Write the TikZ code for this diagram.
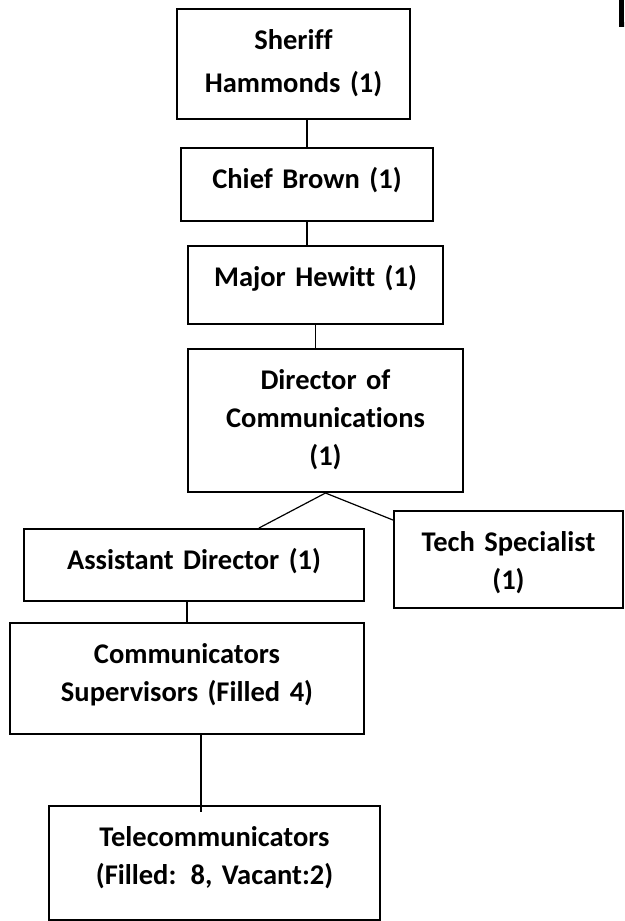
\documentclass[tikz,border=0pt]{standalone}
\usepackage{fontspec}
\setmainfont{Carlito}[Ligatures=NoCommon]
\tikzset{
  post/.style={draw, line width=2pt, inner sep=0pt, anchor=north west, align=center,
    text height=40pt, font=\bfseries\fontsize{28.5}{38}\selectfont},
  link/.style={line width=1.2pt}
}
\begin{document}
\begin{tikzpicture}[x=1pt,y=-1pt]
\useasboundingbox[fill=white] (0,0) rectangle (624,921);
\clip (0,0) rectangle (624,921);

\node[post, text width=233pt, text depth=70pt, font=\bfseries\fontsize{28.5}{43}\selectfont] (sheriff) at (176,8) {Sheriff\\Hammonds (1)};
\node[post, text width=252pt, text depth=33pt] (chief) at (180,147) {Chief Brown (1)};
\node[post, text width=255pt, text depth=38pt] (major) at (187,245) {Major Hewitt (1)};
\node[post, text width=275pt, text depth=103pt] (director) at (187,348) {Director of\\Communications\\(1)};
\node[post, text width=340pt, text depth=32pt] (assistant) at (23,528) {Assistant Director (1)};
\node[post, text width=229pt, text depth=57pt] (tech) at (393,510) {Tech Specialist\\(1)};
\node[post, text width=354pt, text depth=71pt] (supervisors) at (9,622) {Communicators\\Supervisors (Filled 4)};
\node[post, text width=331pt, text depth=74pt] (telecom) at (48,805) {Telecommunicators\\(Filled: 8, Vacant:2)};
\node[draw, line width=5pt, anchor=north west, minimum width=60pt, minimum height=42pt] (corner) at (619,-20) {};

\draw[link] (sheriff.south -| chief.north) -- (chief.north);
\draw[link] (chief.south) -- (chief.south |- major.north);
\draw[link] (major.south) -- (major.south |- director.north);
\draw[link] (director.south) -- ([xshift=65pt]assistant.north);
\draw[link] (director.south) -- ([yshift=-10pt]tech.north west);
\draw[link] (assistant.south -| supervisors.north) -- (supervisors.north);
\draw[link] ([xshift=14pt]supervisors.south) -- ([xshift=-13.5pt,yshift=-7pt]telecom.north);

\end{tikzpicture}
\end{document}
